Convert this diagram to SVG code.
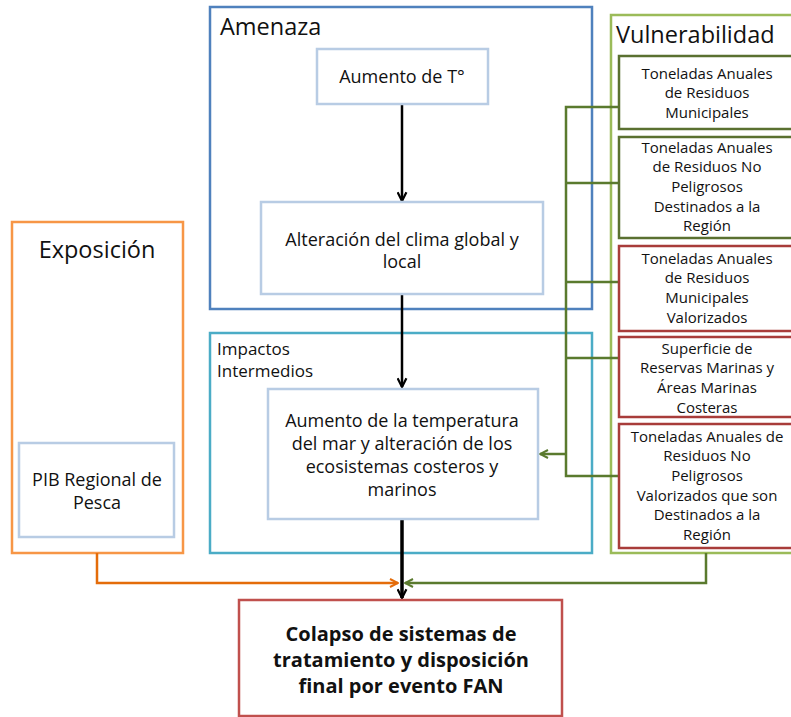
<svg xmlns="http://www.w3.org/2000/svg" width="791" height="717" viewBox="0 0 791 717">
<defs>
<style>
text{font-family:"Open Sans","Noto Sans","DejaVu Sans",sans-serif;fill:#111;text-anchor:middle}
.title{font-size:23.5px;text-anchor:start}
.sub{font-size:17px;text-anchor:start}
.mid{font-size:18px}
.sm{font-size:15px}
.big{font-size:20px;font-weight:bold}
.lb{fill:#fff;stroke:#b8cce4;stroke-width:2.5}
.dg{fill:#fff;stroke:#5a7030;stroke-width:2.5}
.rd{fill:#fff;stroke:#a83c3a;stroke-width:2.5}
.grp{fill:none;stroke-width:2.5}
.con{fill:none;stroke-linejoin:miter}
</style>
<marker id="ab" viewBox="0 0 10 10" refX="9" refY="5" markerWidth="11" markerHeight="11" markerUnits="userSpaceOnUse" orient="auto"><path d="M1,1 L9,5 L1,9" fill="none" stroke="#000" stroke-width="2"/></marker>
<marker id="ao" viewBox="0 0 10 10" refX="9" refY="5" markerWidth="10" markerHeight="10" markerUnits="userSpaceOnUse" orient="auto"><path d="M1,1 L9,5 L1,9" fill="none" stroke="#e46c0a" stroke-width="2"/></marker>
<marker id="ag" viewBox="0 0 10 10" refX="9" refY="5" markerWidth="10" markerHeight="10" markerUnits="userSpaceOnUse" orient="auto"><path d="M1,1 L9,5 L1,9" fill="none" stroke="#5a7a2e" stroke-width="2"/></marker>
</defs>
<rect width="791" height="717" fill="#fff"/>

<g id="amenaza">
<rect x="210" y="7" width="382" height="302" class="grp" stroke="#4f81bd"/>
<text x="220" y="35" class="title">Amenaza</text>
</g>
<g id="impactos">
<rect x="210" y="333" width="382" height="220" class="grp" stroke="#4bacc6"/>
<text x="217" y="355" class="sub">Impactos</text>
<text x="217" y="377" class="sub">Intermedios</text>
</g>
<g id="exposicion">
<rect x="12" y="222" width="171" height="331" class="grp" stroke="#f79646"/>
<text x="97" y="258" class="title" style="text-anchor:middle">Exposición</text>
</g>
<g id="vulnerabilidad">
<rect x="611" y="15" width="190" height="538" class="grp" stroke="#9bbb59"/>
<text x="616" y="43" class="title">Vulnerabilidad</text>
</g>

<g id="connectors">
<path d="M402,104 V201" class="con" stroke="#000" stroke-width="2.5" marker-end="url(#ab)"/>
<path d="M402,294 V387" class="con" stroke="#000" stroke-width="2.5" marker-end="url(#ab)"/>
<path d="M402,519 V598" class="con" stroke="#000" stroke-width="3.5" marker-end="url(#ab)"/>
<path d="M97,553 V583 H398" class="con" stroke="#e46c0a" stroke-width="2.5" marker-end="url(#ao)"/>
<path d="M706,553 V583 H405" class="con" stroke="#5a7a2e" stroke-width="2.5" marker-end="url(#ag)"/>
<g stroke="#5a7a2e" stroke-width="2.5" fill="none">
<path d="M619,107 H566 V476 H619"/>
<path d="M566,183 H619"/>
<path d="M566,282 H619"/>
<path d="M566,358 H619"/>
<path d="M566,454 H540" marker-end="url(#ag)"/>
</g>
</g>

<g id="aumento_t">
<rect x="317" y="49" width="171" height="55" class="lb"/>
<text x="402" y="83" class="mid">Aumento de T°</text>
</g>
<g id="alteracion">
<rect x="261" y="202" width="282" height="92" class="lb"/>
<text x="402" y="246" class="mid">Alteración del clima global y</text>
<text x="402" y="268" class="mid">local</text>
</g>
<g id="aumento_temp_mar">
<rect x="268" y="389" width="270" height="130" class="lb"/>
<text x="402" y="427" class="mid">Aumento de la temperatura</text>
<text x="402" y="450" class="mid">del mar y alteración de los</text>
<text x="402" y="473" class="mid">ecosistemas costeros y</text>
<text x="402" y="496" class="mid">marinos</text>
</g>
<g id="pib">
<rect x="19" y="443" width="155" height="94" class="lb"/>
<text x="97" y="486" class="mid">PIB Regional de</text>
<text x="97" y="509" class="mid">Pesca</text>
</g>
<g id="colapso">
<rect x="239" y="600" width="323" height="116" fill="#fff" stroke="#c0504d" stroke-width="2.5"/>
<text x="401" y="641" class="big">Colapso de sistemas de</text>
<text x="401" y="667" class="big">tratamiento y disposición</text>
<text x="401" y="693" class="big">final por evento FAN</text>
</g>

<g id="v1">
<rect x="619" y="56" width="180" height="73" class="dg"/>
<text x="707" y="79" class="sm">Toneladas Anuales</text>
<text x="707" y="98" class="sm">de Residuos</text>
<text x="707" y="118" class="sm">Municipales</text>
</g>
<g id="v2">
<rect x="619" y="137" width="180" height="101" class="dg"/>
<text x="707" y="153" class="sm">Toneladas Anuales</text>
<text x="707" y="172" class="sm">de Residuos No</text>
<text x="707" y="192" class="sm">Peligrosos</text>
<text x="707" y="212" class="sm">Destinados a la</text>
<text x="707" y="231" class="sm">Región</text>
</g>
<g id="v3">
<rect x="619" y="246" width="180" height="85" class="rd"/>
<text x="707" y="264" class="sm">Toneladas Anuales</text>
<text x="707" y="283" class="sm">de Residuos</text>
<text x="707" y="303" class="sm">Municipales</text>
<text x="707" y="323" class="sm">Valorizados</text>
</g>
<g id="v4">
<rect x="619" y="337" width="180" height="80" class="rd"/>
<text x="707" y="354" class="sm">Superficie de</text>
<text x="707" y="373" class="sm">Reservas Marinas y</text>
<text x="707" y="393" class="sm">Áreas Marinas</text>
<text x="707" y="413" class="sm">Costeras</text>
</g>
<g id="v5">
<rect x="619" y="424" width="180" height="124" class="rd"/>
<text x="707" y="442" class="sm">Toneladas Anuales de</text>
<text x="707" y="461" class="sm">Residuos No</text>
<text x="707" y="481" class="sm">Peligrosos</text>
<text x="707" y="501" class="sm">Valorizados que son</text>
<text x="707" y="520" class="sm">Destinados a la</text>
<text x="707" y="540" class="sm">Región</text>
</g>
</svg>
